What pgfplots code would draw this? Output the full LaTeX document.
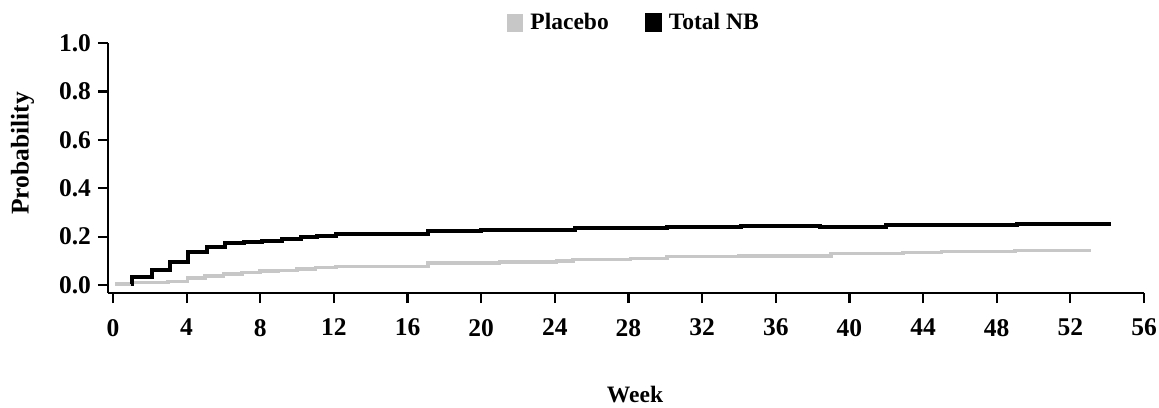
\documentclass[border=0pt]{standalone}
\usepackage{fontspec}
\setmainfont{Liberation Serif}
\usepackage{pgfplots}
\pgfplotsset{compat=1.18}
\definecolor{placebogray}{RGB}{199,199,199}
\newcommand{\tickfont}{\bfseries\fontsize{12.8}{14}\selectfont}
\newcommand{\chartfont}{\bfseries\fontsize{11.8}{13}\selectfont}
\begin{document}
\begin{tikzpicture}
\begin{axis}[
  name=ax,
  scale only axis,
  width=518bp, height=125bp,
  xmin=-0.27, xmax=56,
  ymin=-0.033, ymax=1.0,
  axis x line*=bottom, axis y line*=left,
  axis line style={line width=1.1bp},
  tick align=outside,
  major tick length=5bp,
  major tick style={line width=1.1bp, black},
  xtick={0,4,...,56},
  ytick={0,0.2,0.4,0.6,0.8,1.0},
  /pgf/number format/assume math mode=true,
  ticklabel style={font=\tickfont},
  xticklabel shift=4.5bp,
  yticklabel style={/pgf/number format/fixed, /pgf/number format/fixed zerofill, /pgf/number format/precision=1},
  legend columns=2,
  legend style={draw=none, fill=none, inner sep=0pt, outer sep=0pt,
    at={(rel axis cs:0.385,1.08)}, anchor=west,
    nodes={inner sep=0pt, font=\chartfont},
    /tikz/every odd column/.append style={column sep=3.5bp},
    /tikz/every even column/.append style={column sep=18bp}},
]
% Placebo
\addplot[const plot, placebogray, line width=1.8bp,
  legend image code/.code={\fill[placebogray] (0,-3.75bp) rectangle (6.5bp,3.75bp);}]
  coordinates {
  (0.1,0.003) (1.05,0.010) (3.0,0.014) (4.05,0.028) (5.0,0.037) (6.0,0.045)
  (7.0,0.051) (8.0,0.058) (9.0,0.060) (10.0,0.065) (11.0,0.072) (12.1,0.076)
  (17.1,0.090) (21,0.094) (24.1,0.099) (25,0.106) (28.1,0.110) (30.1,0.117)
  (34,0.121) (39,0.131) (42.9,0.135) (45,0.138) (49,0.142) (53.1,0.142)
  };
\addlegendentry{Placebo}
% Total NB
\addplot[const plot, black, line width=2bp,
  legend image code/.code={\fill[black] (0,-3.75bp) rectangle (6.5bp,3.75bp);}]
  coordinates {
  (1.0,0.003) (1.05,0.032) (2.1,0.062) (3.1,0.096) (4.05,0.138) (5.1,0.158)
  (6.1,0.175) (7.1,0.179) (8.1,0.183) (9.2,0.190) (10.2,0.197) (11.1,0.204)
  (12.1,0.209) (14,0.212) (17.1,0.223) (20,0.229) (25.1,0.234) (30.1,0.241)
  (34.1,0.245) (38.4,0.238) (42,0.248) (49.1,0.252) (54.2,0.252)
  };
\addlegendentry{Total NB}
\end{axis}
\path (ax.south west) ++(-42.75bp,69.75bp) node[rotate=90, font=\tickfont] {Probability};
\path (ax.south west) ++(263.5bp,-51bp) node[font=\chartfont] {Week};
\pgfresetboundingbox
\path[use as bounding box] (-54bp,-57.5bp) rectangle (525.5bp,146.5bp);
\end{tikzpicture}
\end{document}
